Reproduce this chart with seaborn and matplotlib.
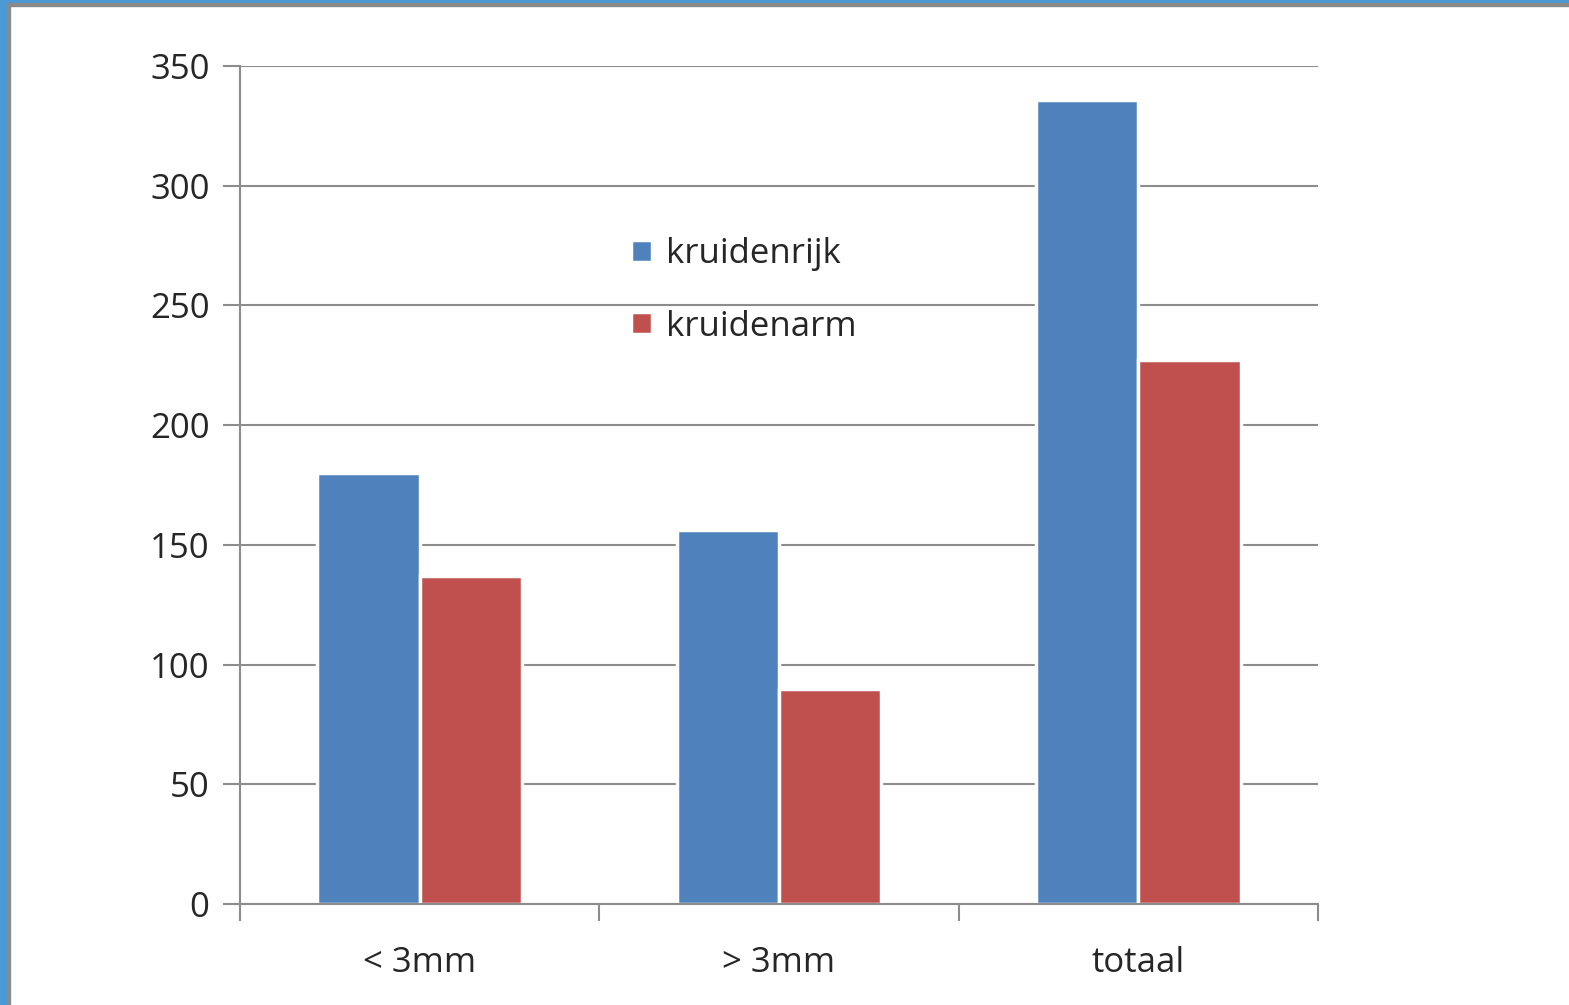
import pandas as pd
import matplotlib
matplotlib.use("Agg")
import matplotlib.pyplot as plt
import seaborn as sns
from matplotlib.patches import Rectangle

# data
categories = ["< 3mm", "> 3mm", "totaal"]
kruidenrijk = [180, 156, 336]
kruidenarm = [137, 90, 227]
series_names = ["kruidenrijk", "kruidenarm"]
y_ticks = [0, 50, 100, 150, 200, 250, 300, 350]

df = pd.DataFrame({
    "cat": categories * 2,
    "serie": [series_names[0]] * 3 + [series_names[1]] * 3,
    "waarde": kruidenrijk + kruidenarm,
})

sns.set_style("white")
plt.rcParams["font.family"] = ["Open Sans", "DejaVu Sans"]

fig = plt.figure(figsize=(15.69, 10.05), dpi=100)
ax = fig.add_axes([240 / 1569, 101 / 1005, 1078 / 1569, 838 / 1005])

grid_col = "#8c8c8c"
ax.set_axisbelow(True)
ax.yaxis.grid(True, color=grid_col, linewidth=1.5)

sns.barplot(data=df, x="cat", y="waarde", hue="serie", order=categories,
            hue_order=series_names, palette=["#4F81BD", "#C0504D"],
            width=0.57, edgecolor="white", linewidth=2.5, saturation=1,
            ax=ax, legend=True)

ax.set_xlim(-0.5, 2.5)
ax.set_ylim(0, 350)
ax.set_yticks(y_ticks)
ax.set_xlabel("")
ax.set_ylabel("")

for side in ["top", "right"]:
    ax.spines[side].set_visible(False)
ax.spines["left"].set_color(grid_col)
ax.spines["bottom"].set_color(grid_col)
ax.spines["left"].set_linewidth(1.5)
ax.spines["bottom"].set_linewidth(1.5)

ax.tick_params(axis="y", length=12, width=1.5, color=grid_col, labelsize=25,
               pad=10, labelcolor="#262626", left=True)
ax.tick_params(axis="x", which="major", length=0, labelsize=25, pad=30,
               labelcolor="#262626")
ax.set_xticks([-0.5, 0.5, 1.5, 2.5], minor=True)
ax.tick_params(axis="x", which="minor", length=12, width=1.5, color=grid_col,
               bottom=True)

leg = ax.legend(loc="upper left", bbox_to_anchor=(0.35, 0.812), frameon=False,
                fontsize=25, handlelength=0.6, handleheight=0.6,
                handletextpad=0.4, labelspacing=1.1, borderaxespad=0)
for t in leg.get_texts():
    t.set_color("#262626")

# window frame
fig.patches.append(Rectangle((0, 0), 7 / 1569, 1, transform=fig.transFigure,
                             color="#4a9ad6", zorder=10))
fig.patches.append(Rectangle((7 / 1569, 0), 3 / 1569, 1 - 3 / 1005,
                             transform=fig.transFigure, color="#8a8a8a", zorder=10))
fig.patches.append(Rectangle((0, 1 - 3 / 1005), 1, 3 / 1005,
                             transform=fig.transFigure, color="#4a9ad6", zorder=10))
fig.patches.append(Rectangle((7 / 1569, 1 - 6 / 1005), 1, 3 / 1005,
                             transform=fig.transFigure, color="#8a8a8a", zorder=10))

fig.savefig("out.png", dpi=100)
